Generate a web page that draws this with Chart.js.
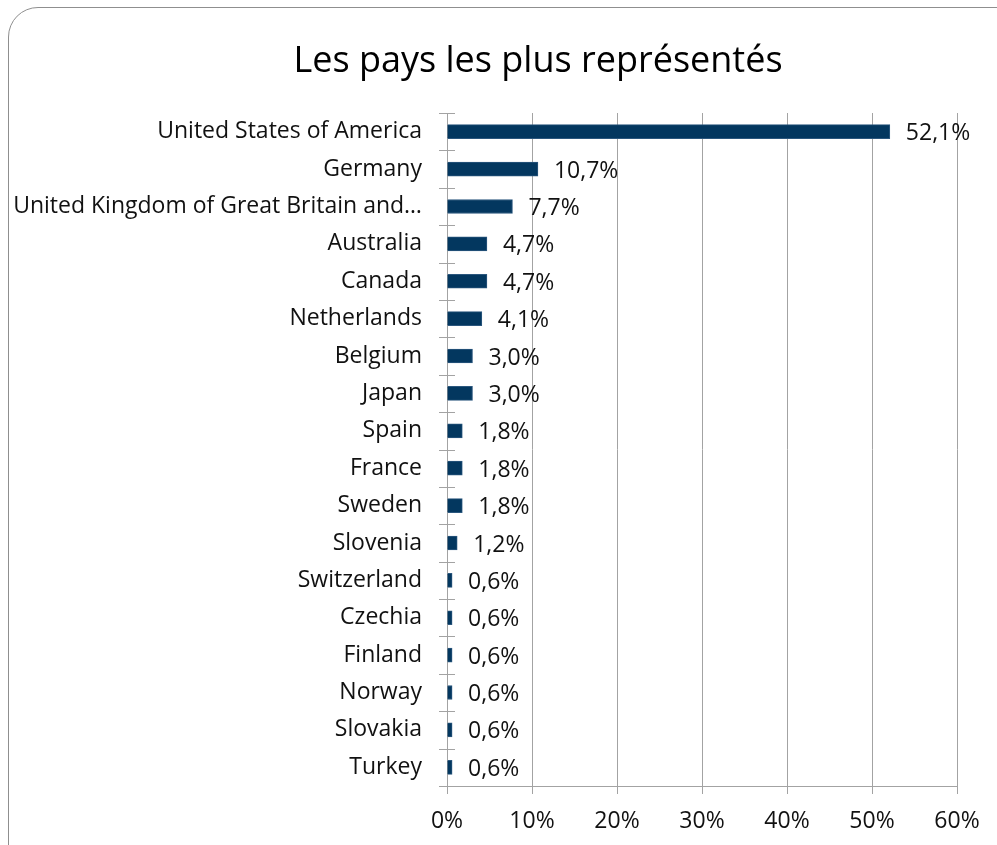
<!DOCTYPE html>
<html>
<head>
<meta charset="utf-8">
<script src="https://cdn.jsdelivr.net/npm/chart.js@4/dist/chart.umd.min.js"></script>
<style>
  html, body { margin: 0; padding: 0; background: #fff; overflow: hidden; }
  #wrap { position: relative; width: 997px; height: 845px; }
  #frame {
    position: absolute; left: 8px; top: 7px; width: 1020px; height: 880px;
    border: 1.5px solid #8f8f8f; border-radius: 30px; box-sizing: border-box;
  }
  canvas { position: absolute; left: 0; top: 0; }
</style>
</head>
<body>
<div id="wrap">
  <div id="frame"></div>
  <canvas id="chart" width="997" height="845"></canvas>
</div>
<script>
const countries = [
  'United States of America', 'Germany', 'United Kingdom of Great Britain and\u2026',
  'Australia', 'Canada', 'Netherlands', 'Belgium', 'Japan', 'Spain', 'France',
  'Sweden', 'Slovenia', 'Switzerland', 'Czechia', 'Finland', 'Norway', 'Slovakia', 'Turkey'
];
const shares = [52.1, 10.7, 7.7, 4.7, 4.7, 4.1, 3.0, 3.0, 1.8, 1.8, 1.8, 1.2, 0.6, 0.6, 0.6, 0.6, 0.6, 0.6];
const xTicks = [0, 10, 20, 30, 40, 50, 60];
const chartTitle = 'Les pays les plus représentés';

const fontFam = '"Open Sans", Lato, sans-serif';
const labelSize = 23;
const gridCol = '#a3a3a3';

// title centred over the whole frame
const titlePlugin = {
  id: 'titlePlugin',
  afterDraw(chart) {
    const ctx = chart.ctx;
    ctx.save();
    ctx.font = '36px ' + fontFam;
    ctx.fillStyle = '#000';
    ctx.textAlign = 'center';
    ctx.textBaseline = 'middle';
    ctx.fillText(chartTitle, 538, 62);
    ctx.restore();
  }
};

// value labels at the end of each bar
const valueLabels = {
  id: 'valueLabels',
  afterDatasetsDraw(chart) {
    const ctx = chart.ctx;
    const meta = chart.getDatasetMeta(0);
    ctx.save();
    ctx.font = labelSize + 'px ' + fontFam;
    ctx.fillStyle = '#111';
    ctx.textBaseline = 'middle';
    ctx.textAlign = 'left';
    meta.data.forEach((bar, i) => {
      const txt = shares[i].toFixed(1).replace('.', ',') + '%';
      ctx.fillText(txt, bar.x + 16, bar.y + 2);
    });
    ctx.restore();
  }
};

// small cross ticks on the category axis
const catTicks = {
  id: 'catTicks',
  afterDraw(chart) {
    const ctx = chart.ctx;
    const y = chart.scales.y;
    const x0 = chart.scales.x.getPixelForValue(0);
    const half = (y.getPixelForValue(1) - y.getPixelForValue(0)) / 2;
    ctx.save();
    ctx.strokeStyle = gridCol;
    ctx.lineWidth = 1;
    ctx.beginPath();
    for (let i = 0; i <= countries.length; i++) {
      const py = Math.round(y.getPixelForValue(i) - half) + 0.5;
      ctx.moveTo(x0 - 8, py);
      ctx.lineTo(x0 + 8, py);
    }
    ctx.stroke();
    ctx.restore();
  }
};

new Chart(document.getElementById('chart'), {
  type: 'bar',
  data: {
    labels: countries,
    datasets: [{
      data: shares,
      backgroundColor: '#03375f',
      borderColor: '#2b577e',
      borderWidth: 1,
      barThickness: 14
    }]
  },
  options: {
    indexAxis: 'y',
    responsive: false,
    animation: false,
    layout: { padding: { left: 0, right: 40, top: 113, bottom: 0 } },
    plugins: {
      legend: { display: false },
      tooltip: { enabled: false },
      title: { display: false }
    },
    scales: {
      x: {
        min: 0, max: 60,
        afterBuildTicks: s => { s.ticks = xTicks.map(v => ({ value: v })); },
        afterFit: s => { s.height = 59; },
        grid: { color: gridCol, lineWidth: 1, tickLength: 8, drawTicks: true },
        border: { display: true, color: gridCol },
        ticks: {
          color: '#111',
          padding: 14,
          font: { family: fontFam, size: labelSize },
          callback: v => v + '%'
        }
      },
      y: {
        afterFit: s => { s.width = 447; },
        grid: { display: false },
        border: { display: true, color: gridCol },
        ticks: {
          color: '#111',
          padding: 17,
          font: { family: fontFam, size: labelSize },
          autoSkip: false
        }
      }
    }
  },
  plugins: [valueLabels, catTicks, titlePlugin]
});
</script>
</body>
</html>
